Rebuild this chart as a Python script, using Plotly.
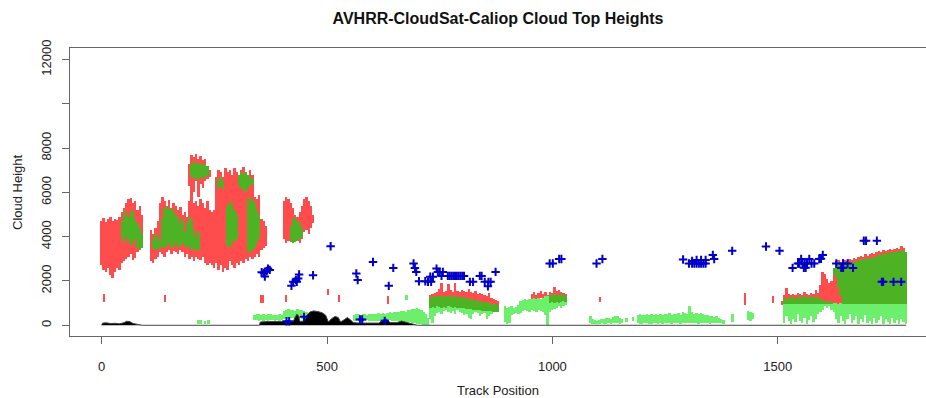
import plotly.graph_objects as go

STEP = 5

# ---------------- red (range) series, chunks start at *_X0, one value per 5 track positions
RED_A_X0 = 0
RED_A_HI = [4700, 4850, 4650, 4800, 4900, 4700, 4800, 4750, 4900, 5100, 5300, 5500, 5700, 5750, 5500, 5600, 5200, 5400, 5000]
RED_A_LO = [2700, 2500, 2400, 2600, 2250, 2150, 2400, 2600, 2500, 2800, 2900, 3000, 3100, 3200, 2950, 3050, 3300, 3400, 3600]

RED_B_X0 = 110
RED_B_HI = [4300, 4100, 4400, 4700, 5500, 5800, 5600, 5400, 5650, 5300, 5500, 5400, 5200, 5350, 5000, 5100, 4900, 5600, 5700, 5500, 5600, 5400, 5700, 5500, 5300, 5600, 5200]
RED_B_LO = [2900, 2800, 3000, 3100, 3300, 3200, 3100, 3300, 3400, 3200, 3350, 3300, 3200, 3400, 3300, 3100, 3200, 3000, 3100, 2900, 3100, 3000, 2950, 3100, 2800, 2700, 2800]

RED_P_X0 = 195
RED_P_HI = [7300, 7700, 7600, 7750, 7500, 7650, 7450, 7500, 7200, 7000]
RED_P_LO = [6300, 5700, 6000, 6500, 5800, 6400, 6200, 6500, 6600, 6700]

RED_C_X0 = 245
RED_C_HI = [5100, 5200, 6700, 7000, 6900, 6700, 7100, 6900, 7000, 6800, 7100, 6900, 6500, 7000, 7150, 6900, 6700, 7000, 6800, 5800, 5700, 5900, 4800, 4700, 4500]
RED_C_LO = [2700, 2600, 2800, 2500, 2700, 2400, 2600, 2500, 2900, 2700, 2600, 2800, 2700, 2900, 2800, 3000, 2900, 3100, 3000, 3100, 3200, 3100, 3400, 3500, 3600]

RED_D_X0 = 405
RED_D_HI = [5600, 5800, 5700, 5500, 5300, 5000, 4900, 5100, 5400, 5700, 5800, 5600, 5400, 5000]
RED_D_LO = [3900, 3700, 3800, 3750, 3900, 4100, 3800, 3700, 3900, 4200, 4300, 4100, 4400, 4600]

RED_E_X0 = 730
RED_E_HI = [1350, 1400, 1450, 1500, 1650, 1900, 1500, 1550, 1850, 1600, 1500, 1900, 1550, 1500, 1600, 1550, 1500, 1650, 1500, 1450, 1550, 1400, 1450, 1400, 1350, 1300, 1450, 1250, 1200, 1150, 1100]
RED_E_LO = [950, 900, 950, 900, 920, 900, 950, 900, 880, 900, 950, 900, 880, 900, 850, 900, 880, 850, 900, 850, 820, 850, 800, 850, 820, 800, 780, 800, 760, 800, 780]

RED_F_X0 = 955
RED_F_HI = [1400, 1500, 1350, 1450, 1550, 1400, 1500, 1350, 1500, 1450, 1750, 1550, 1600, 1500, 1450, 1400]
RED_F_LO = [1150, 1200, 1150, 1200, 1250, 1200, 1150, 1200, 1000, 1050, 1000, 1050, 1000, 1050, 1100, 1050]

RED_I_X0 = 1510
RED_I_HI = [1100, 1350, 1700, 1400, 1350, 1400, 1350, 1450, 1400, 1350, 1500, 1400, 1350, 1450, 1400, 1600, 1450, 1800, 2400, 2300,
            2100, 1900, 2000, 2300, 2900, 2950, 2850, 3000, 2950, 2900, 3000, 2950, 3050, 3000, 3100, 3150, 3100, 3200, 3150, 3200,
            3250, 3200, 3300, 3350, 3300, 3400, 3350, 3400, 3450, 3400, 3450, 3500, 3450, 3600, 3500, 3300]
RED_I_LO = [900, 980, 980, 980, 980, 980, 980, 980, 980, 980, 980, 980, 980, 980, 980, 980, 980, 1000, 1000, 1000,
            1000, 1000, 1000, 1000, 980, 980, 980, 980, 980, 980, 980, 980, 980, 980, 980, 980, 980, 980, 980, 980,
            980, 980, 980, 980, 980, 980, 980, 980, 980, 980, 980, 980, 980, 980, 980, 980]

# isolated short red marks
RED_M_X = [5, 140, 353, 358, 410, 502, 528, 635, 1105, 1428, 1489]
RED_M_LO = [1050, 1050, 1000, 1000, 1050, 1350, 1050, 950, 1050, 900, 1000]
RED_M_HI = [1400, 1350, 1350, 1350, 1350, 1650, 1350, 1300, 1280, 1450, 1300]

# ---------------- dark green series
DG_A_X0 = 45
DG_A_HI = [4700, 5000, 5200, 4900, 5100, 5200, 4800, 4600, 4400, 4100]
DG_A_LO = [3900, 3700, 4000, 3800, 3600, 3700, 3900, 3500, 3400, 3500]

DG_B_X0 = 115
DG_B_HI = [3900, 4100, 4000, 3800, 4800, 5300, 5400, 5200, 5300, 5100, 5000, 4900, 4600, 4800, 4200, 4600, 4900, 4700, 4300, 4000, 4200]
DG_B_LO = [3500, 3400, 3500, 3400, 3600, 3500, 3600, 3700, 3500, 3600, 3700, 3500, 3600, 3700, 3600, 3500, 3600, 3400, 3500, 3300, 3400]

DG_P_X0 = 200
DG_P_HI = [7300, 7400, 7350, 7300, 7350, 7250, 7300, 7200]
DG_P_LO = [6700, 6600, 6650, 6550, 6700, 6600, 6700, 6750]

DG_C1_X0 = 260
DG_C1_HI = [6600, 6700, 6500, None, None, None, None, None, None, 6800, 6900, 6850, 6900, 6800, 6700, 6600]
DG_C1_LO = [6200, 6300, 6100, None, None, None, None, None, None, 6300, 6200, 6100, 6000, 6200, 6300, 6400]

DG_C2_X0 = 280
DG_C2_HI = [5400, 5600, 5500, 5200, 5000, None, None, None, None, 5800, 5600, 5700, 5500, 5200, 5000]
DG_C2_LO = [3600, 3500, 3700, 3800, 3900, None, None, None, None, 3300, 3250, 3400, 3500, 3700, 3900]

DG_D_X0 = 420
DG_D_HI = [4500, 4800, 4900, 4700, 4600, 4400]
DG_D_LO = [3800, 3700, 3750, 3800, 3900, 4000]

DG_E_X0 = 730
DG_E_HI = [1250, 1300, 1280, 1300, 1320, 1300, 1280, 1300, 1320, 1300, 1280, 1300, 1290, 1280, 1260, 1250, 1230, 1200, 1180, 1150, 1130, 1100, 1080, 1060, 1050, 1030, 1000, 980, 960, 940, 920]
DG_E_LO = [800, 820, 800, 850, 830, 800, 820, 800, 850, 820, 800, 830, 800, 780, 800, 760, 750, 740, 720, 700, 700, 680, 680, 660, 650, 650, 640, 630, 620, 600, 600]

DG_F_X0 = 995
DG_F_HI = [1350, 1380, 1400, 1350, 1380, 1400, 1350, 1300]
DG_F_LO = [1000, 1050, 1000, 1050, 1000, 1050, 1100, 1050]

DG_I_X0 = 1515
DG_I_HI = [1250, 1200, 1280, 1250, 1300, 1200, 1280, 1300, 1250, 1300, 1280, 1250, 1300, 1280, 1250, 1300, 1200, 1150, 1100, 1050,
           1100, 1050, 2600, 2750, 2800, 2700, 2850, 2800, 2750, 2850, 2800, 2900, 2850, 2950, 3000, 2950, 3050, 3000, 3050, 3100,
           3050, 3150, 3200, 3150, 3250, 3200, 3250, 3300, 3250, 3300, 3350, 3300, 3400, 3350, 3300]
DG_I_LO = [980, 980, 980, 980, 980, 980, 980, 980, 980, 980, 980, 980, 980, 980, 980, 980, 980, 980, 980, 980,
           980, 980, 2300, 2200, 1700, 1300, 980, 980, 980, 980, 980, 980, 980, 980, 980, 980, 980, 980, 980, 980,
           980, 980, 980, 980, 980, 980, 980, 980, 980, 980, 980, 980, 980, 980, 980]

# ---------------- light green series
LG_A_X = [215, 220, 230, 238]
LG_A_LO = [80, 80, 80, 80]
LG_A_HI = [250, 230, 200, 240]

LG_B_X0 = 340
LG_B_HI = [450, 500, 520, 480, 500, 470, 520, 500, 480, 450, 470, 500, 480, 650, 700, 720, 680, 700, 650, 720, 700, 680, 650, 600]
LG_B_LO = [250, 220, 200, 230, 210, 250, 200, 220, 240, 200, 230, 210, 250, 300, 320, 300, 330, 310, 300, 320, 340, 300, 320, 350]

LG_C_X0 = 560
LG_C_HI = [480, 520, 500, 470, 500, 520, 480, 500, 530, 510, 500, 540, 520, 550, 530, 560, 580, 550, 600, 620, 580, 640, 660, 620, 680, 700, 720, 750, 770, 740, 700, 620, 500, 350]
LG_C_LO = [200, 180, 220, 200, 170, 200, 230, 200, 180, 210, 200, 190, 220, 200, 180, 200, 220, 200, 190, 180, 200, 170, 180, 160, 150, 140, 120, 100, 80, 60, 40, 20, 0, 0]

LG_D_X0 = 730
LG_D_HI = [1250, 1300, 1280, 1300, 1320, 1300, 1280, 1300, 1320, 1300, 1280, 1300, 1290, 1280, 1260, 1250, 1230, 1200, 1180, 1150, 1130, 1100, 1080, 1060, 1050, 1030, 1000, 980, 960, 940, 920]
LG_D_LO = [300, 100, 400, 550, 600, 500, 650, 700, 600, 550, 650, 500, 700, 600, 550, 450, 500, 350, 300, 500, 600, 550, 400, 500, 550, 300, 400, 500, 600, 650, 700]

LG_E_X0 = 895
LG_E_HI = [850, 800, 820, 850, 800, 830, 900, 1100, 1150, 1200, 1150, 1200, 1180, 1220, 1200, 1250, 1200, 1250, 1300, 1300, 1350, 1380, 1400, 1350, 1380, 1400, 1350, 1300]
LG_E_LO = [150, 50, 100, 450, 500, 550, 500, 550, 650, 700, 650, 600, 700, 650, 600, 700, 650, 600, 450, 0, 600, 700, 750, 800, 850, 800, 850, 900]

LG_G_X0 = 1085
LG_G_HI = [400, 300, 250, 200, 250, 300, 280, 330, 350, 300,
           380, 420, 400, 350, 300, None, 350, None, None, 380,
           None, 480, 500, 450, 480, 500, 460, 500, 480, 520,
           450, 500, 480, 520, 500, 550, 480, 520, 500, 550,
           480, 600, 550, 520, 850, 600, 500, 550, 520, 560,
           500, 480, 450, 420, 400, 380, 400, 350, 300, 250]
LG_G_LO = [100, 80, 60, 50, 70, 90, 60, 80, 100, 70,
           90, 120, 100, 80, 90, None, 150, None, None, 200,
           None, 100, 80, 70, 90, 100, 60, 80, 100, 90,
           70, 100, 80, 120, 90, 100, 80, 110, 90, 100,
           80, 120, 100, 90, 100, 110, 90, 100, 80, 120,
           100, 90, 110, 80, 100, 90, 120, 100, 90, 80]

LG_H_X = [677, 1400, 1435, 1440, 1445]
LG_H_LO = [1130, 150, 250, 200, 300]
LG_H_HI = [1360, 500, 650, 600, 550]

LG_I_X0 = 1515
LG_I_HI = [980, 990, 980, 985, 980, 990, 985, 980, 990, 980, 985, 980, 990, 985, 980, 990, 980, 985, 990, 980,
           985, 980, 990, 985, 980, 990, 980, 985, 990, 980, 985, 980, 990, 985, 980, 990, 980, 985, 990, 980,
           985, 980, 990, 985, 980, 990, 980, 985, 990, 980, 985, 980, 990, 985, 980]
LG_I_LO = [100, 400, 200, 50, 300, 150, 500, 200, 100, 350, 50, 250, 400, 150, 300, 500, 600, 700, 850, 800,
           850, 700, 600, 300, 100, 400, 200, 50, 300, 500, 100, 250, 400, 50, 300, 150, 450, 100, 200, 50,
           350, 100, 250, 400, 50, 300, 150, 50, 350, 100, 250, 50, 300, 150, 50]

# ---------------- terrain (black)
TER_X = [0, 2, 10, 20, 30, 40, 50, 55, 62, 70, 80, 90, 350, 352, 370, 390, 410, 425, 430, 433, 437, 440, 450, 455, 462, 470,
         480, 490, 497, 503, 510, 518, 525, 530, 538, 545, 552, 558, 570, 600, 615, 625, 632, 640, 655, 665, 675, 690, 700, 1785]
TER_Y = [0, 100, 110, 80, 90, 70, 120, 180, 170, 80, 40, 0, 0, 150, 170, 160, 150, 170, 400, 500, 420, 170, 200, 450, 600, 650,
         620, 560, 450, 150, 300, 400, 350, 150, 250, 350, 250, 120, 100, 90, 100, 250, 270, 120, 120, 190, 150, 60, 0, 0]

# ---------------- AVHRR heights (blue +)
AV_X = [355, 360, 362, 369, 373, 366, 421, 425, 431, 433, 436, 438, 410, 416, 449, 469, 508, 565, 568, 573, 578, 602, 628,
        637, 647, 692, 695, 698, 704, 718, 724, 729, 731, 735, 743, 746, 750, 754, 757,
        768, 772, 776, 780, 784, 788, 792, 796, 800, 804, 817, 824, 839, 843, 850, 857, 858, 863, 874,
        994, 1001, 1015, 1020, 1098, 1111,
        1290, 1303, 1310, 1315, 1320, 1325, 1330, 1335, 1340, 1310, 1320, 1330, 1340, 1356, 1359,
        1399, 1474, 1504,
        1533, 1545, 1548, 1552, 1555, 1560, 1565, 1570, 1575, 1558, 1562, 1581, 1592, 1596, 1600,
        1630, 1641, 1645, 1655, 1667, 1645, 1691, 1696, 1720, 1731, 1734, 1757, 1774]
AV_Y = [2400, 2350, 2200, 2560, 2500, 2450, 1780, 1960, 2040, 1960, 2110, 2290, 180, 180, 380, 2260, 3570, 2340, 2040, 260, 260, 2860, 200,
        1780, 2590, 2790, 2590, 2410, 1990, 1990, 1960, 2190, 1960, 2190, 2560, 2410, 2410, 2230, 2410,
        2230, 2230, 2230, 2230, 2230, 2230, 2230, 2230, 2230, 2230, 1960, 1960, 2230, 2230, 1960, 1760, 1960, 1960, 2410,
        2790, 2790, 2990, 2990, 2790, 2990,
        2970, 2790, 2790, 2790, 2790, 2790, 2790, 2790, 2790, 2900, 2950, 2950, 2950, 3170, 2990,
        3360, 3560, 3360,
        2590, 2790, 2790, 2990, 2790, 2790, 2790, 2990, 2790, 2600, 2600, 2790, 2990, 3000, 3170,
        2790, 2590, 2790, 2790, 2590, 2600, 3820, 3820, 3820, 1960, 1960, 1960, 1960]

X_TICKS = [0, 500, 1000, 1500]
Y_TICKS = [0, 2000, 4000, 6000, 8000, 10000, 12000]
Y_TICKTEXT = ["0", "2000", "4000", "6000", "8000", "", "12000"]

RED = "#ff4d4d"
DGREEN = "#4db224"
LGREEN = "#6cf06c"
BLUE = "#0000c8"
FONT = "Liberation Sans, Arial, sans-serif"


def chunk(x0, hi, lo):
    xs, hs, bs = [], [], []
    for i, (h, l) in enumerate(zip(hi, lo)):
        if h is None or l is None:
            continue
        xs.append(x0 + STEP * i)
        hs.append(h - l)
        bs.append(l)
    return xs, hs, bs


def points(xv, hi, lo):
    return list(xv), [h - l for h, l in zip(hi, lo)], list(lo)


def combine(parts):
    X, H, B = [], [], []
    for xs, hs, bs in parts:
        X += xs; H += hs; B += bs
    return X, H, B


fig = go.Figure()


def add_bars(parts, color, width):
    X, H, B = combine(parts)
    fig.add_trace(go.Bar(x=X, y=H, base=B, width=width, marker=dict(color=color, line=dict(width=0)),
                         hoverinfo="skip", showlegend=False))


add_bars([chunk(RED_A_X0, RED_A_HI, RED_A_LO), chunk(RED_B_X0, RED_B_HI, RED_B_LO),
          chunk(RED_P_X0, RED_P_HI, RED_P_LO), chunk(RED_C_X0, RED_C_HI, RED_C_LO),
          chunk(RED_D_X0, RED_D_HI, RED_D_LO), chunk(RED_E_X0, RED_E_HI, RED_E_LO),
          chunk(RED_F_X0, RED_F_HI, RED_F_LO), chunk(RED_I_X0, RED_I_HI, RED_I_LO)], RED, 4.3)
add_bars([points(RED_M_X, RED_M_HI, RED_M_LO)], RED, 3)

add_bars([points(LG_A_X, LG_A_HI, LG_A_LO), chunk(LG_B_X0, LG_B_HI, LG_B_LO), chunk(LG_C_X0, LG_C_HI, LG_C_LO),
          chunk(LG_D_X0, LG_D_HI, LG_D_LO), chunk(LG_E_X0, LG_E_HI, LG_E_LO), chunk(LG_G_X0, LG_G_HI, LG_G_LO),
          points(LG_H_X, LG_H_HI, LG_H_LO), chunk(LG_I_X0, LG_I_HI, LG_I_LO)], LGREEN, 4.3)

add_bars([chunk(DG_A_X0, DG_A_HI, DG_A_LO), chunk(DG_B_X0, DG_B_HI, DG_B_LO), chunk(DG_P_X0, DG_P_HI, DG_P_LO),
          chunk(DG_C1_X0, DG_C1_HI, DG_C1_LO), chunk(DG_C2_X0, DG_C2_HI, DG_C2_LO), chunk(DG_D_X0, DG_D_HI, DG_D_LO),
          chunk(DG_E_X0, DG_E_HI, DG_E_LO), chunk(DG_F_X0, DG_F_HI, DG_F_LO), chunk(DG_I_X0, DG_I_HI, DG_I_LO)],
         DGREEN, 4.3)

fig.add_trace(go.Scatter(x=TER_X, y=TER_Y, mode="lines", fill="tozeroy", fillcolor="black",
                         line=dict(color="#444444", width=1.0), hoverinfo="skip", showlegend=False))

fig.add_trace(go.Scatter(x=AV_X, y=AV_Y, mode="markers",
                         marker=dict(symbol="cross-thin", size=6, line=dict(color=BLUE, width=2), color=BLUE),
                         hoverinfo="skip", showlegend=False))

axis_common = dict(showgrid=False, zeroline=False, showline=True, linecolor="#666666", linewidth=1,
                   ticks="outside", ticklen=7, tickcolor="#666666", tickwidth=1,
                   tickfont=dict(family=FONT, size=13, color="#222222"))

fig.update_layout(
    width=926, height=398,
    margin=dict(l=70, r=0, t=48, b=62),
    plot_bgcolor="white", paper_bgcolor="white",
    barmode="overlay", bargap=0, showlegend=False,
    font=dict(family=FONT, size=13, color="#222222"),
    title=dict(text="<b>AVHRR-CloudSat-Caliop Cloud Top Heights</b>", x=0.5, xref="paper", xanchor="center",
               y=1 - 18 / 398, yref="container", yanchor="middle", font=dict(family=FONT, size=16, color="#111111")),
    xaxis=dict(range=[-70.3, 1829], tickvals=X_TICKS, ticktext=[str(v) for v in X_TICKS], mirror=True,
               ticklabelstandoff=11, **axis_common),
    yaxis=dict(range=[-484, 12520], tickvals=Y_TICKS, ticktext=Y_TICKTEXT, tickangle=-90, mirror=False,
               ticklabelstandoff=6, **axis_common),
    annotations=[
        dict(text="Track Position", xref="paper", yref="paper", x=0.5, y=0, yshift=-54, showarrow=False,
             xanchor="center", yanchor="middle", font=dict(family=FONT, size=13, color="#222222")),
        dict(text="Cloud Height", xref="paper", yref="paper", x=0, y=0.5, xshift=-53, textangle=-90, showarrow=False,
             xanchor="center", yanchor="middle", font=dict(family=FONT, size=13, color="#222222")),
    ],
)

fig.write_html("out.html")
